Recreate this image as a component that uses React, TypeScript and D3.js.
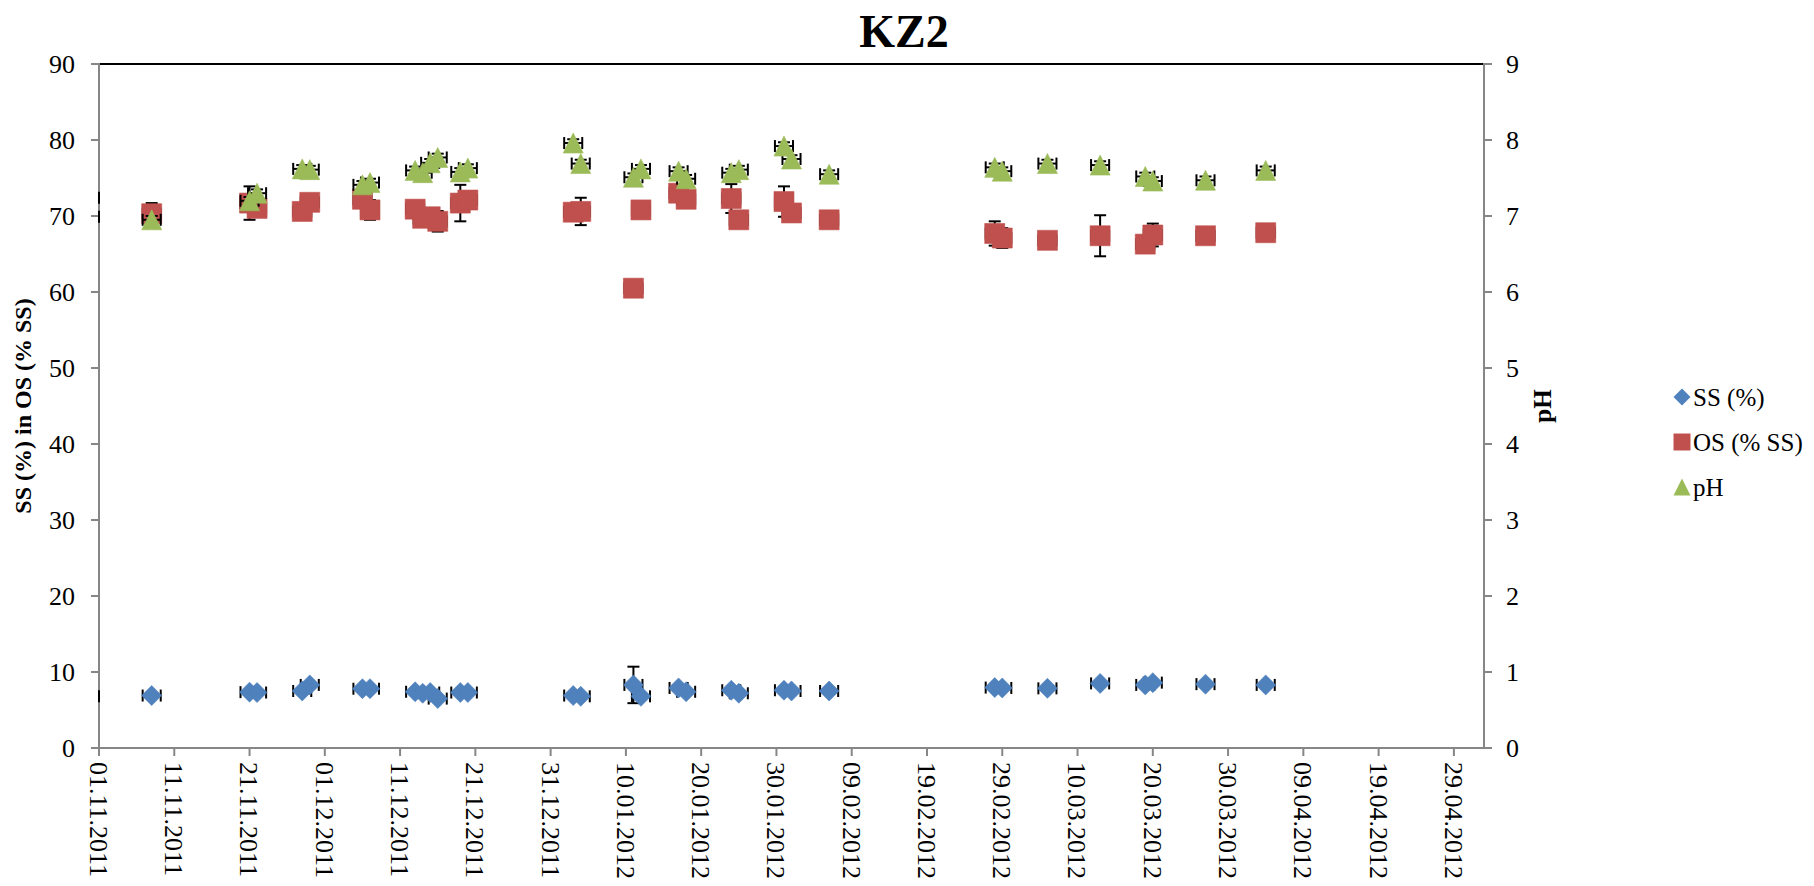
import * as d3 from "d3";

// sampling dates (dd.mm.yyyy)
const dates = [
  "08.11.2011", "21.11.2011", "22.11.2011", "28.11.2011", "29.11.2011",
  "06.12.2011", "07.12.2011", "13.12.2011", "14.12.2011", "15.12.2011",
  "16.12.2011", "19.12.2011", "20.12.2011", "03.01.2012", "04.01.2012",
  "11.01.2012", "12.01.2012", "17.01.2012", "18.01.2012", "24.01.2012",
  "25.01.2012", "31.01.2012", "01.02.2012", "06.02.2012", "28.02.2012",
  "29.02.2012", "06.03.2012", "13.03.2012", "19.03.2012", "20.03.2012",
  "27.03.2012", "04.04.2012",
];

const ssValues = [
  6.9, 7.35, 7.3, 7.5, 8.3, 7.8, 7.8, 7.4, 7.2, 7.3, 6.5, 7.3, 7.3, 6.9, 6.8,
  8.3, 6.8, 7.9, 7.4, 7.6, 7.2, 7.6, 7.5, 7.5, 7.95, 7.9, 7.85, 8.5, 8.3, 8.6,
  8.4, 8.3,
];
const ssErr = [
  0.3, 0.3, 0.3, 0.3, 0.3, 0.3, 0.3, 0.3, 0.3, 0.3, 0.3, 0.3, 0.3, 0.3, 0.3,
  2.4, 0.3, 0.3, 0.3, 0.3, 0.3, 0.3, 0.3, 0.3, 0.3, 0.3, 0.3, 0.3, 0.3, 0.3,
  0.3, 0.3,
];

const osValues = [
  70.3, 71.7, 71.0, 70.6, 71.8, 72.2, 70.8, 70.9, 69.7, 69.9, 69.3, 71.7, 72.1,
  70.5, 70.6, 60.5, 70.8, 73.0, 72.2, 72.3, 69.5, 71.9, 70.4, 69.5, 67.7, 67.1,
  66.8, 67.4, 66.3, 67.5, 67.4, 67.8,
];
const osErr = [
  1.4, 2.2, 0.5, 0.5, 0.5, 0.5, 1.3, 0.5, 0.5, 0.8, 1.35, 2.4, 0.5, 0.5, 1.8,
  0.5, 0.5, 0.5, 0.5, 1.9, 0.5, 2.0, 0.5, 0.5, 1.6, 1.3, 0.5, 2.7, 0.5, 1.5,
  0.5, 0.5,
];

const phValues = [
  6.95, 7.2, 7.3, 7.62, 7.61, 7.41, 7.44, 7.6, 7.57, 7.7, 7.77, 7.58, 7.63,
  7.96, 7.69, 7.51, 7.62, 7.59, 7.49, 7.57, 7.61, 7.92, 7.75, 7.55, 7.64, 7.59,
  7.69, 7.67, 7.52, 7.46, 7.47, 7.6,
];
const phErr = [
  0.05, 0.05, 0.05, 0.05, 0.05, 0.05, 0.05, 0.05, 0.05, 0.05, 0.05, 0.05, 0.05,
  0.05, 0.05, 0.05, 0.05, 0.05, 0.05, 0.05, 0.05, 0.05, 0.05, 0.05, 0.05, 0.05,
  0.05, 0.05, 0.05, 0.05, 0.05, 0.05,
];

// horizontal error bars, in days
const xErrDays = 1.2;

// error-bar caps left over on the left edge (left axis units)
const edgeCaps = [72.4, 69.9, 6.8];

const xTickLabels = [
  "01.11.2011", "11.11.2011", "21.11.2011", "01.12.2011", "11.12.2011",
  "21.12.2011", "31.12.2011", "10.01.2012", "20.01.2012", "30.01.2012",
  "09.02.2012", "19.02.2012", "29.02.2012", "10.03.2012", "20.03.2012",
  "30.03.2012", "09.04.2012", "19.04.2012", "29.04.2012",
];
const xMin = "01.11.2011";
const xMax = "03.05.2012";
const leftTicks = [0, 10, 20, 30, 40, 50, 60, 70, 80, 90];
const rightTicks = [0, 1, 2, 3, 4, 5, 6, 7, 8, 9];

const seriesNames = ["SS (%)", "OS (% SS)", "pH"];
const colors = ["#4F81BD", "#C0504D", "#9BBB59"];

const W = 1814;
const H = 886;
const left = 99;
const right = 1484;
const top = 64;
const bottom = 748;
const font = "'Liberation Serif', 'Times New Roman', serif";

const parse = d3.utcParse("%d.%m.%Y");

const diamondType = {
  draw(ctx: any, size: number) {
    const r = Math.sqrt(size) / 2;
    ctx.moveTo(0, -r);
    ctx.lineTo(r, 0);
    ctx.lineTo(0, r);
    ctx.lineTo(-r, 0);
    ctx.closePath();
  },
};
const squareType = {
  draw(ctx: any, size: number) {
    const r = Math.sqrt(size) / 2;
    ctx.rect(-r, -r, 2 * r, 2 * r);
  },
};
const triangleType = {
  draw(ctx: any, size: number) {
    const r = Math.sqrt(size) / 2;
    ctx.moveTo(0, -r);
    ctx.lineTo(r, r);
    ctx.lineTo(-r, r);
    ctx.closePath();
  },
};
const shapes = [diamondType, squareType, triangleType];

export default function App() {
  const x = d3
    .scaleUtc()
    .domain([parse(xMin)!, parse(xMax)!])
    .range([left, right]);
  const yL = d3.scaleLinear().domain([0, 90]).range([bottom, top]);
  const yR = d3.scaleLinear().domain([0, 9]).range([bottom, top]);

  const dayMs = 864e5;
  const series = [
    { values: ssValues, err: ssErr, y: yL },
    { values: osValues, err: osErr, y: yL },
    { values: phValues, err: phErr, y: yR },
  ];

  const markerPath = (i: number, size: number) =>
    d3.symbol().type(shapes[i] as any).size(size)()!;

  const cap = 6;

  return (
    <svg
      width={W}
      height={H}
      style={{ position: "absolute", left: 0, top: 0, background: "#fff" }}
      fontFamily={font}
    >
      <rect x={0} y={0} width={W} height={H} fill="#fff" />
      <text
        x={904}
        y={47}
        textAnchor="middle"
        fontSize={46}
        fontWeight="bold"
      >
        KZ2
      </text>

      {/* plot area border */}
      <rect
        x={left}
        y={top}
        width={right - left}
        height={bottom - top}
        fill="none"
        stroke="#000"
        strokeWidth={2}
      />

      {/* axes */}
      <g stroke="#868686" strokeWidth={2}>
        <line x1={left} x2={left} y1={top - 1} y2={bottom + 1} />
        <line x1={right} x2={right} y1={top - 1} y2={bottom + 1} />
        <line x1={left - 1} x2={right + 1} y1={bottom} y2={bottom} />
        {leftTicks.map((t) => (
          <line key={"lt" + t} x1={left - 8} x2={left} y1={yL(t)} y2={yL(t)} />
        ))}
        {rightTicks.map((t) => (
          <line key={"rt" + t} x1={right} x2={right + 8} y1={yR(t)} y2={yR(t)} />
        ))}
        {xTickLabels.map((t) => (
          <line
            key={"xt" + t}
            x1={x(parse(t)!)}
            x2={x(parse(t)!)}
            y1={bottom}
            y2={bottom + 8}
          />
        ))}
      </g>

      <g fontSize={26} fill="#000">
        {leftTicks.map((t) => (
          <text key={"ll" + t} x={75} y={yL(t)} dy="0.35em" textAnchor="end">
            {t}
          </text>
        ))}
        {rightTicks.map((t) => (
          <text key={"rl" + t} x={1506} y={yR(t)} dy="0.35em">
            {t}
          </text>
        ))}
        {xTickLabels.map((t) => (
          <text
            key={"xl" + t}
            transform={`translate(${x(parse(t)!)},762) rotate(90)`}
            dy="0.35em"
          >
            {t}
          </text>
        ))}
      </g>

      <text
        transform="translate(31,406) rotate(-90)"
        textAnchor="middle"
        fontSize={24}
        fontWeight="bold"
      >
        SS (%) in OS (% SS)
      </text>
      <text
        transform="translate(1551,406) rotate(-90)"
        textAnchor="middle"
        fontSize={25}
        fontWeight="bold"
      >
        pH
      </text>

      {/* leftover caps on the left edge */}
      <g stroke="#000" strokeWidth={2}>
        {edgeCaps.map((v, i) => (
          <line
            key={"ec" + i}
            x1={x(parse(xMin)!)}
            x2={x(parse(xMin)!)}
            y1={yL(v) - cap}
            y2={yL(v) + cap}
          />
        ))}
      </g>

      {series.map((s, si) => (
        <g key={"s" + si}>
          <g stroke="#000" strokeWidth={2}>
            {dates.map((d, i) => {
              const dt = parse(d)!;
              const cx = x(dt);
              const cy = s.y(s.values[i]);
              const y1 = s.y(s.values[i] + s.err[i]);
              const y2 = s.y(s.values[i] - s.err[i]);
              const x1 = x(new Date(dt.getTime() - xErrDays * dayMs));
              const x2 = x(new Date(dt.getTime() + xErrDays * dayMs));
              return (
                <g key={i}>
                  <line x1={cx} x2={cx} y1={y1} y2={y2} />
                  <line x1={cx - cap} x2={cx + cap} y1={y1} y2={y1} />
                  <line x1={cx - cap} x2={cx + cap} y1={y2} y2={y2} />
                  <line x1={x1} x2={x2} y1={cy} y2={cy} />
                  <line x1={x1} x2={x1} y1={cy - cap} y2={cy + cap} />
                  <line x1={x2} x2={x2} y1={cy - cap} y2={cy + cap} />
                </g>
              );
            })}
          </g>
          {dates.map((d, i) => (
            <path
              key={"m" + i}
              d={markerPath(si, 400)}
              transform={`translate(${x(parse(d)!)},${s.y(s.values[i])})`}
              fill={colors[si]}
              stroke={colors[si]}
              strokeOpacity={0.6}
              strokeWidth={1}
            />
          ))}
        </g>
      ))}

      {/* legend */}
      <g fontSize={25}>
        {seriesNames.map((n, i) => (
          <g key={n} transform={`translate(0,${397 + i * 45})`}>
            <path
              d={markerPath(i, 289)}
              transform="translate(1682,0)"
              fill={colors[i]}
            />
            <text x={1693} dy="0.35em">
              {n}
            </text>
          </g>
        ))}
      </g>
    </svg>
  );
}
